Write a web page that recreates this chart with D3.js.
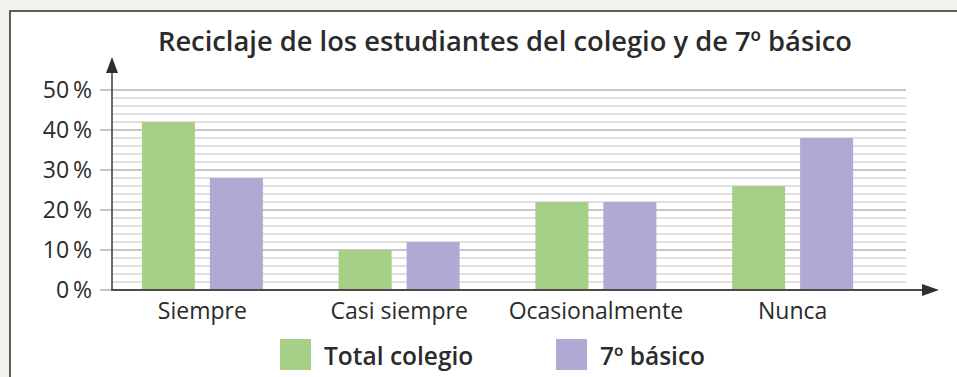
<!DOCTYPE html>
<html>
<head>
<meta charset="utf-8">
<script src="https://cdn.jsdelivr.net/npm/d3@7"></script>
<style>
  html, body { margin: 0; padding: 0; background: #f2f1ee; }
  svg { display: block; }
  text { font-family: "Open Sans", Lato, sans-serif; fill: #2b2b2b; }
</style>
</head>
<body>
<svg id="chart" width="957" height="377"></svg>
<script>
// Survey data: share of students by recycling frequency
const categories = ["Siempre", "Casi siempre", "Ocasionalmente", "Nunca"];
const seriesNames = ["Total colegio", "7º básico"];
const totalColegio = [42, 10, 22, 26];
const septimoBasico = [28, 12, 22, 38];
const yTicks = [0, 10, 20, 30, 40, 50];
const colors = ["#a6cf87", "#afaad4"];
const title = "Reciclaje de los estudiantes del colegio y de 7º básico";

const svg = d3.select("#chart");

// Card background with border on the top and left
svg.append("rect")
  .attr("x", 10).attr("y", 11)
  .attr("width", 960).attr("height", 380)
  .attr("fill", "#ffffff")
  .attr("stroke", "#3a3a3a").attr("stroke-width", 1.6);

const x0 = 112, yBase = 290, yTop = 90, gridEnd = 906;

const y = d3.scaleLinear().domain([0, 50]).range([yBase, yTop]);
const xGroup = d3.scaleBand().domain(categories).range([104, 891]).padding(0);
const xInner = d3.scaleBand().domain(seriesNames)
  .range([0, xGroup.bandwidth()]).paddingInner(0.22).paddingOuter(0.557);

// Minor gridlines every 2 %
const minor = d3.range(2, 50, 2).filter(v => v % 10 !== 0);
svg.append("g").selectAll("line").data(minor).join("line")
  .attr("x1", x0).attr("x2", gridEnd)
  .attr("y1", d => y(d)).attr("y2", d => y(d))
  .attr("stroke", "#d6d6d6").attr("stroke-width", 1.3);

// Major gridlines + ticks
svg.append("g").selectAll("line").data(yTicks.filter(v => v > 0)).join("line")
  .attr("x1", 100).attr("x2", gridEnd)
  .attr("y1", d => y(d)).attr("y2", d => y(d))
  .attr("stroke", "#b3b3b3").attr("stroke-width", 1.5);
svg.append("line").attr("x1", 100).attr("x2", x0)
  .attr("y1", y(0)).attr("y2", y(0))
  .attr("stroke", "#b3b3b3").attr("stroke-width", 1.5);

// Y tick labels
svg.append("g").selectAll("text").data(yTicks).join("text")
  .attr("x", 92).attr("y", d => y(d)).attr("dy", "0.36em")
  .attr("text-anchor", "end").attr("font-size", 23)
  .text(d => d + "\u2009%");

// Bars
const rows = categories.map((c, i) => ({ cat: c, vals: [totalColegio[i], septimoBasico[i]] }));
const groups = svg.append("g").selectAll("g").data(rows).join("g")
  .attr("transform", d => `translate(${xGroup(d.cat)},0)`);
groups.selectAll("rect").data(d => d.vals.map((v, k) => ({ k, v }))).join("rect")
  .attr("x", d => xInner(seriesNames[d.k]))
  .attr("width", xInner.bandwidth())
  .attr("y", d => y(d.v))
  .attr("height", d => y(0) - y(d.v))
  .attr("fill", d => colors[d.k]);

// Category labels
svg.append("g").selectAll("text").data(categories).join("text")
  .attr("x", d => xGroup(d) + xGroup.bandwidth() / 2)
  .attr("y", 319)
  .attr("text-anchor", "middle").attr("font-size", 23)
  .text(d => d);

// Axes with arrowheads
const axisColor = "#2f2f2f";
svg.append("line").attr("x1", x0).attr("x2", x0)
  .attr("y1", yBase + 1).attr("y2", 70)
  .attr("stroke", "#444").attr("stroke-width", 1.6);
svg.append("path")
  .attr("d", `M${x0},57 L${x0 - 6},73 L${x0 + 6},73 Z`)
  .attr("fill", axisColor);
svg.append("line").attr("x1", x0).attr("x2", 924)
  .attr("y1", yBase).attr("y2", yBase)
  .attr("stroke", "#4a4a4a").attr("stroke-width", 2.2);
svg.append("path")
  .attr("d", `M939,${yBase} L922,${yBase - 6} L922,${yBase + 6} Z`)
  .attr("fill", axisColor);

// Title
svg.append("text")
  .attr("x", 505).attr("y", 51)
  .attr("text-anchor", "middle")
  .attr("font-size", 27.3).attr("font-weight", 600)
  .text(title);

// Legend
const legendX = [280, 556];
const legend = svg.append("g").selectAll("g").data(seriesNames).join("g")
  .attr("transform", (d, i) => `translate(${legendX[i]},339)`);
legend.append("rect").attr("width", 31).attr("height", 31)
  .attr("fill", (d, i) => colors[i]);
legend.append("text").attr("x", 44).attr("y", 26)
  .attr("font-size", 24.5).attr("font-weight", 600)
  .text(d => d);
</script>
</body>
</html>
